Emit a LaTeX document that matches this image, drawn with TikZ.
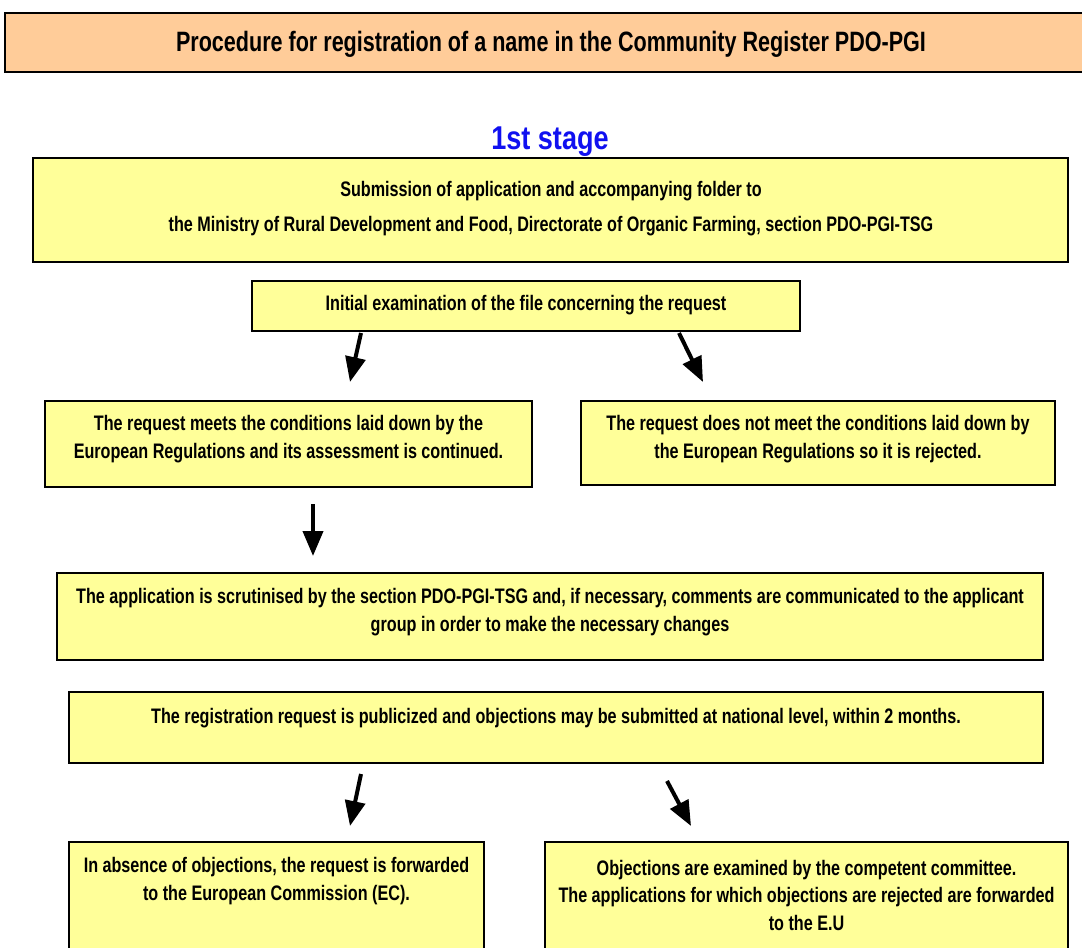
\documentclass[tikz,border=0pt]{standalone}
\usepackage{fontspec}
\setmainfont{Liberation Sans}[FakeStretch=0.77]
\newfontfamily\stagefont{Liberation Sans}[FakeStretch=0.82]
\usetikzlibrary{arrows.meta}
\definecolor{boxyellow}{HTML}{FFFF99}
\definecolor{titlepeach}{HTML}{FFCC99}
\definecolor{stageblue}{HTML}{1010F0}
\tikzset{
  box/.style={draw=black, line width=1.6pt, fill=boxyellow, inner sep=0pt},
  titlebox/.style={box, fill=titlepeach},
  txt/.style={align=center, inner sep=0pt, font=\bfseries\fontsize{21}{27.5}\selectfont},
  arr/.style={line width=4pt, -{Triangle[width=20pt,length=25pt]}},
}
\begin{document}
\begin{tikzpicture}[x=1pt, y=-1pt]
\useasboundingbox (0,0) rectangle (1082,948);

% heading
\node[titlebox, minimum width=1080pt, minimum height=59pt] (title) at (545,42.5) {};
\node[txt, font=\bfseries\fontsize{28}{32}\selectfont] (titlet) at (551,44) {Procedure for registration of a name in the Community Register PDO-PGI};

\node[txt, text=stageblue, font=\stagefont\bfseries\fontsize{33}{36}\selectfont] (stage) at (550,142) {1st stage};

% submission
\node[box, minimum width=1035pt, minimum height=104pt] (sub) at (550.5,210) {};
\node[txt] (subt1) at (551,191) {Submission of application and accompanying folder to};
\node[txt] (subt2) at (551,226) {the Ministry of Rural Development and Food, Directorate of Organic Farming, section PDO-PGI-TSG};

% initial examination
\node[box, minimum width=548pt, minimum height=50pt] (init) at (526,306) {};
\node[txt] (initt) at (526,305) {Initial examination of the file concerning the request};

% accepted / rejected
\node[box, minimum width=487pt, minimum height=86pt] (ok) at (288.5,444) {};
\node[txt] (okt) at (288.5,439) {The request meets the conditions laid down by the\\European Regulations and its assessment is continued.};
\node[box, minimum width=474pt, minimum height=84pt] (rej) at (818,443) {};
\node[txt] (rejt) at (818,439) {The request does not meet the conditions laid down by\\the European Regulations so it is rejected.};

% scrutiny
\node[box, minimum width=986pt, minimum height=87pt] (scr) at (550,616.5) {};
\node[txt] (scrt) at (550,612) {The application is scrutinised by the section PDO-PGI-TSG and, if necessary, comments are communicated to the applicant\\group in order to make the necessary changes};

% publication
\node[box, minimum width=974pt, minimum height=71pt] (pub) at (556,727.5) {};
\node[txt] (pubt) at (556,718) {The registration request is publicized and objections may be submitted at national level, within 2 months.};

% outcomes of publication
\node[box, minimum width=415pt, minimum height=112pt] (noobj) at (276.5,898) {};
\node[txt] (noobjt) at (276.5,881) {In absence of objections, the request is forwarded\\to the European Commission (EC).};
\node[box, minimum width=523pt, minimum height=112pt] (obj) at (806.5,898) {};
\node[txt] (objt) at (806.5,895) {Objections are examined by the competent committee.\\The applications for which objections are rejected are forwarded\\to the E.U};

% arrows
\coordinate (a1s) at (361,333);  \coordinate (a1e) at (350,382);
\coordinate (a2s) at (679,333);  \coordinate (a2e) at (703,382);
\coordinate (a3s) at (313,504);  \coordinate (a3e) at (313,556);
\coordinate (a4s) at (361,774);  \coordinate (a4e) at (350,826);
\coordinate (a5s) at (667,781);  \coordinate (a5e) at (691,826);
\draw[arr] (a1s) -- (a1e);
\draw[arr] (a2s) -- (a2e);
\draw[arr] (a3s) -- (a3e);
\draw[arr] (a4s) -- (a4e);
\draw[arr] (a5s) -- (a5e);
\end{tikzpicture}
\end{document}
